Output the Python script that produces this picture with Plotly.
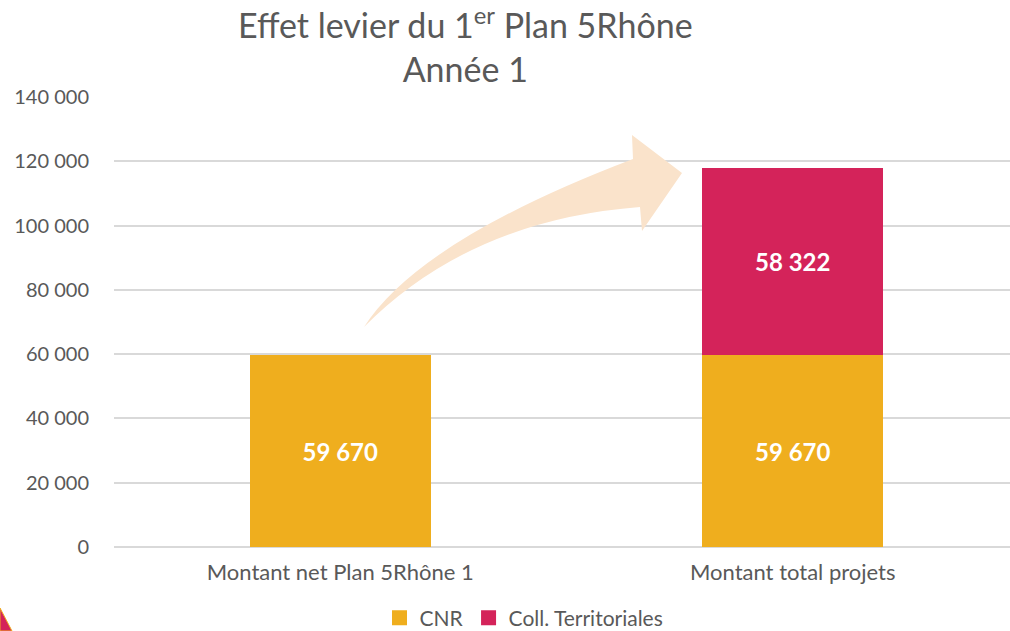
import plotly.graph_objects as go

categories = ["Montant net Plan 5Rhône 1", "Montant total projets"]
cnr = [59670, 59670]
coll = [None, 58322]
series_names = ["CNR", "Coll. Territoriales"]
tick_vals = [0, 20000, 40000, 60000, 80000, 100000, 120000, 140000]

C_CNR = "#EFAE1E"
C_COLL = "#D4235A"
GREY = "#595959"
FONT = "Lato, Calibri, sans-serif"

W, H = 1010, 631
ML, MR, MT, MB = 114, 0, 97, 84
PW, PH = W - ML - MR, H - MT - MB


def px(x, y):
    return (x - ML) / PW, (H - MB - y) / PH


def path(pts, cmds):
    s = ""
    i = 0
    for c in cmds:
        if c in "ML":
            x, y = px(*pts[i]); i += 1
            s += f"{c}{x:.5f},{y:.5f} "
        elif c == "Q":
            x1, y1 = px(*pts[i]); x2, y2 = px(*pts[i + 1]); i += 2
            s += f"Q{x1:.5f},{y1:.5f} {x2:.5f},{y2:.5f} "
        elif c == "Z":
            s += "Z"
    return s


fig = go.Figure()
fig.add_trace(go.Bar(
    x=categories, y=cnr, name=series_names[0], marker=dict(color=C_CNR, line=dict(width=0)),
    width=0.4, texttemplate="%{y:,.0f}", textposition="inside", insidetextanchor="middle",
    textfont=dict(color="white", size=24, family=FONT, weight="bold"), showlegend=False,
    hoverinfo="skip"))
fig.add_trace(go.Bar(
    x=categories, y=coll, name=series_names[1], marker=dict(color=C_COLL, line=dict(width=0)),
    width=0.4, texttemplate="%{y:,.0f}", textposition="inside", insidetextanchor="middle",
    textfont=dict(color="white", size=24, family=FONT, weight="bold"), showlegend=False,
    hoverinfo="skip"))
for name, col in zip(series_names, [C_CNR, C_COLL]):
    fig.add_trace(go.Scatter(x=[None], y=[None], mode="markers", name=name,
                             marker=dict(symbol="square", size=15, color=col),
                             hoverinfo="skip"))

# decorative curved arrow
arrow_pts = [
    (364, 327), (420, 240), (633, 159),  # outer curve
    (632, 135), (682, 173), (642, 231), (640, 207),  # head
    (470, 220), (364, 327),  # inner curve back
]
arrow = path(arrow_pts, ["M", "Q", "L", "L", "L", "L", "Q", "Z"])
fig.add_shape(type="path", path=arrow, xref="paper", yref="paper",
              fillcolor="#FAE3CB", line=dict(width=0), layer="above")

# corner decoration
tri = path([(0, 608), (12, 631), (0, 631)], ["M", "L", "L", "Z"])
fig.add_shape(type="path", path=tri, xref="paper", yref="paper",
              fillcolor=C_COLL, line=dict(color=C_CNR, width=1))

# title as annotation
fig.add_annotation(text="Effet levier du 1<sup>er</sup> Plan 5Rhône<br>Année 1",
                   xref="paper", yref="paper", x=(465 - ML) / PW, y=(H - MB + 1) / PH,
                   xanchor="center", yanchor="top", showarrow=False,
                   font=dict(size=34, color=GREY, family=FONT))

fig.update_layout(
    width=W, height=H, barmode="stack", separators=", ",
    paper_bgcolor="white", plot_bgcolor="white",
    margin=dict(l=ML, r=MR, t=MT, b=MB, autoexpand=False),
    font=dict(family=FONT, color=GREY, size=20),
    legend=dict(orientation="h", x=(524 - ML) / PW, xanchor="center",
                y=(H - MB - 618) / PH, yanchor="middle", traceorder="normal",
                font=dict(size=21, color=GREY, family=FONT)),
    xaxis=dict(range=[-0.5, 1.5 - 9 / 452.6], showgrid=False, showline=False,
               ticks="", ticklabelstandoff=10, tickfont=dict(size=22, color=GREY)),
    yaxis=dict(range=[0, 140000], tickvals=tick_vals, tickformat=",.0f",
               showgrid=True, gridcolor="#D9D9D9", gridwidth=1.5, zeroline=True,
               zerolinecolor="#D9D9D9", zerolinewidth=1.5, showline=False,
               ticks="", ticklabelstandoff=24, tickfont=dict(size=20, color=GREY)),
    bargap=0.6,
)

fig.write_html("out.html", config={"displayModeBar": False},
               post_script="document.body.style.margin='0';document.body.style.overflow='hidden';")
